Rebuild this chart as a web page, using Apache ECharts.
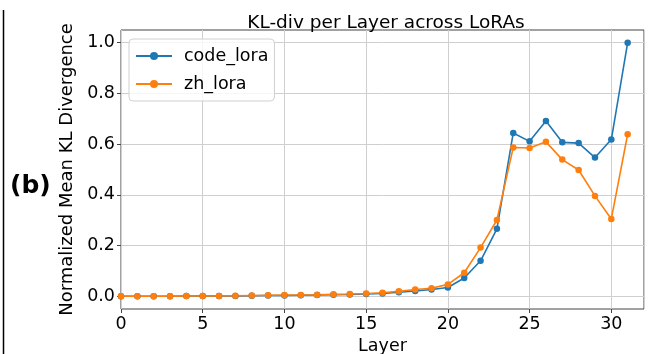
<!DOCTYPE html>
<html><head><meta charset="utf-8">
<script src="https://cdn.jsdelivr.net/npm/echarts@6/dist/echarts.min.js"></script>
<style>html,body{margin:0;padding:0;background:#fff}#c{width:648px;height:354px}</style>
</head><body><div id="c"></div>
<script>
const layers = [0,1,2,3,4,5,6,7,8,9,10,11,12,13,14,15,16,17,18,19,20,21,22,23,24,25,26,27,28,29,30,31];
const codeLora = [0.000,0.000,0.000,0.000,0.001,0.001,0.001,0.001,0.002,0.003,0.003,0.004,0.005,0.006,0.007,0.009,0.011,0.016,0.021,0.027,0.035,0.072,0.140,0.266,0.644,0.611,0.691,0.607,0.604,0.547,0.618,1.000];
const zhLora = [0.000,0.000,0.000,0.000,0.001,0.001,0.001,0.002,0.003,0.004,0.005,0.005,0.006,0.008,0.009,0.011,0.014,0.020,0.027,0.032,0.047,0.093,0.192,0.301,0.587,0.585,0.609,0.539,0.498,0.396,0.305,0.639];
const yTicks = [0, 0.2, 0.4, 0.6, 0.8, 1.0];
const FONT = 'DejaVu Sans';
const FS = 17.5;
const chart = echarts.init(document.getElementById('c'), null, {renderer:'canvas'});
const mk = (name, data, color) => ({
  name, type:'line', data: layers.map((l,i)=>[l,data[i]]),
  symbol:'circle', symbolSize:6.5, showSymbol:true,
  lineStyle:{width:1.6,color}, itemStyle:{color}, animation:false, z: 3
});
chart.setOption({
  animation:false,
  title:{text:'KL-div per Layer across LoRAs', left:381, top:9, textAlign:'center',
    textStyle:{fontFamily:FONT,fontSize:18.5,fontWeight:'normal',color:'#000'}},
  graphic:[
    {type:'line', shape:{x1:3.5,y1:10,x2:3.5,y2:354}, style:{stroke:'#000',lineWidth:1.5}},
    {type:'text', left:10, top:174, style:{text:'(b)', font:'bold 25px "DejaVu Sans"', fill:'#000'}}
  ],
  legend:{orient:'vertical', left:129, top:39, padding:[8,6,8,6], itemGap:10,
    itemWidth:36, itemHeight:10, borderColor:'#d0d0d0', borderWidth:1, borderRadius:4,
    backgroundColor:'rgba(255,255,255,0.8)',
    textStyle:{fontFamily:FONT,fontSize:FS,color:'#000',padding:[0,0,0,7]},
    data:['code_lora','zh_lora']},
  grid:{left:121, right:4, top:30, bottom:45, outerBoundsMode:'none', show:true, borderColor:'#444', borderWidth:1, backgroundColor:'transparent'},
  xAxis:{type:'value', min:0, max:32, interval:5, name:'Layer', nameLocation:'middle', nameGap:27,
    nameTextStyle:{fontFamily:FONT,fontSize:FS,color:'#000'},
    axisLine:{show:false,onZero:false},
    axisTick:{show:true,length:4,inside:false,lineStyle:{color:'#444'}},
    axisLabel:{fontFamily:FONT,fontSize:FS,color:'#000',margin:6, showMaxLabel:false},
    splitLine:{show:true,lineStyle:{color:'#cfcfcf',width:1}}},
  yAxis:{type:'value', min:-0.05, max:1.05, name:'Normalized Mean KL Divergence', nameLocation:'middle', nameGap:37,
    nameTextStyle:{fontFamily:FONT,fontSize:18,color:'#000'},
    axisLine:{show:false,onZero:false},
    axisTick:{show:true,length:4,lineStyle:{color:'#444'},customValues:yTicks},
    axisLabel:{fontFamily:FONT,fontSize:FS,color:'#000',margin:6,customValues:yTicks,
      formatter:v=>v.toFixed(1)},
    splitLine:{show:true,lineStyle:{color:'#cfcfcf',width:1}}},
  series:[mk('code_lora',codeLora,'#1f77b4'), mk('zh_lora',zhLora,'#ff7f0e')]
});
</script></body></html>
